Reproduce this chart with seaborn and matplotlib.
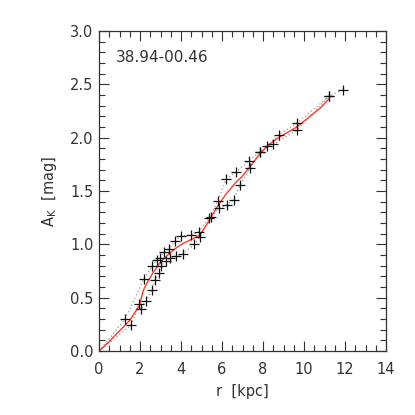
import numpy as np
import pandas as pd
import matplotlib
matplotlib.use('Agg')
import matplotlib.pyplot as plt
import seaborn as sns

# upper set of points (dotted line joins them)
r_up = [1.27, 2.20, 2.59, 2.81, 2.98, 3.17, 3.40, 3.71, 3.98, 4.50, 4.88, 5.37,
        5.80, 6.20, 6.68, 7.30, 7.85, 8.21, 8.76, 9.67, 11.22, 11.89]
a_up = [0.30, 0.68, 0.80, 0.85, 0.87, 0.93, 0.96, 1.03, 1.08, 1.09, 1.12, 1.25,
        1.41, 1.61, 1.68, 1.78, 1.87, 1.92, 2.03, 2.14, 2.39, 2.45]

# lower set of points
r_lo = [1.55, 1.97, 2.03, 2.29, 2.57, 2.72, 2.93, 3.01, 3.27, 3.46, 3.74, 4.08,
        4.65, 4.93, 5.46, 5.87, 6.23, 6.57, 6.89, 7.38, 7.85, 8.51, 9.64, 11.22]
a_lo = [0.24, 0.44, 0.39, 0.47, 0.57, 0.67, 0.73, 0.80, 0.84, 0.87, 0.89, 0.91,
        1.00, 1.07, 1.26, 1.34, 1.37, 1.42, 1.56, 1.72, 1.87, 1.94, 2.07, 2.39]

# red smoothed curve
r_fit = [0.0, 0.5, 1.0, 1.51, 1.97, 2.16, 2.40, 2.65, 3.06, 3.40, 3.71, 4.10, 4.44,
         4.93, 5.33, 5.82, 6.23, 6.45, 6.71, 6.95, 7.37, 7.85, 8.25, 8.67, 9.10,
         9.56, 10.29, 10.80, 11.19]
a_fit = [0.0, 0.09, 0.19, 0.29, 0.43, 0.57, 0.66, 0.74, 0.85, 0.91, 0.96, 1.01, 1.04,
         1.09, 1.21, 1.37, 1.48, 1.53, 1.59, 1.63, 1.73, 1.85, 1.93, 1.99, 2.04,
         2.09, 2.20, 2.28, 2.36]

label = '38.94-00.46'

sns.set_style('ticks')
plt.rcParams['font.family'] = ['DejaVu Sans']
plt.rcParams['mathtext.default'] = 'regular'
ink = '#333333'

fig = plt.figure(figsize=(4.15, 4.15), dpi=100)
ax = fig.add_axes([0.2386, 0.154, 0.6916, 0.771])

up = pd.DataFrame({'r': [0.0] + r_up, 'A': [0.0] + a_up})
lo = pd.DataFrame({'r': [0.0] + r_lo, 'A': [0.0] + a_lo})
fit = pd.DataFrame({'r': r_fit, 'A': a_fit})

sns.lineplot(data=up, x='r', y='A', sort=False, ax=ax, color='#999999',
             linestyle=(0, (1, 2)), linewidth=0.9)
sns.lineplot(data=lo, x='r', y='A', sort=False, ax=ax, color='#999999',
             linestyle=(0, (1, 2)), linewidth=0.9)
sns.lineplot(data=fit, x='r', y='A', sort=False, ax=ax, color='#ff3a2a',
             linewidth=1)
pts = pd.concat([up.iloc[1:], lo.iloc[1:]])
sns.scatterplot(data=pts, x='r', y='A', ax=ax, marker='+', s=50,
                color='#111111', linewidth=0.9, zorder=5)

ax.set_xlim(0, 14)
ax.set_ylim(0, 3.0)
ax.set_xticks(np.arange(0, 15, 2))
ax.set_xticks(np.arange(0, 14.01, 0.5), minor=True)
ax.set_yticks(np.arange(0, 3.01, 0.5))
ax.set_yticks(np.arange(0, 3.001, 0.1), minor=True)
ax.set_yticklabels(['%.1f' % v for v in np.arange(0, 3.01, 0.5)])
ax.tick_params(which='both', direction='in', top=True, right=True,
               colors=ink, labelsize=10.5)
ax.tick_params(which='major', length=7, width=0.8)
ax.tick_params(which='minor', length=4, width=0.8)
ax.tick_params(axis='x', pad=8)
ax.tick_params(axis='y', pad=4)
for s in ax.spines.values():
    s.set_color(ink)
    s.set_linewidth(0.9)

ax.set_xlabel('r  [kpc]', fontsize=10.5, color=ink, labelpad=5)
ax.set_ylabel('A$_K$  [mag]', fontsize=10.5, color=ink, labelpad=8)
ax.text(0.8, 2.75, label, fontsize=11, color=ink, va='center', ha='left')

fig.savefig('out.png', dpi=100)
